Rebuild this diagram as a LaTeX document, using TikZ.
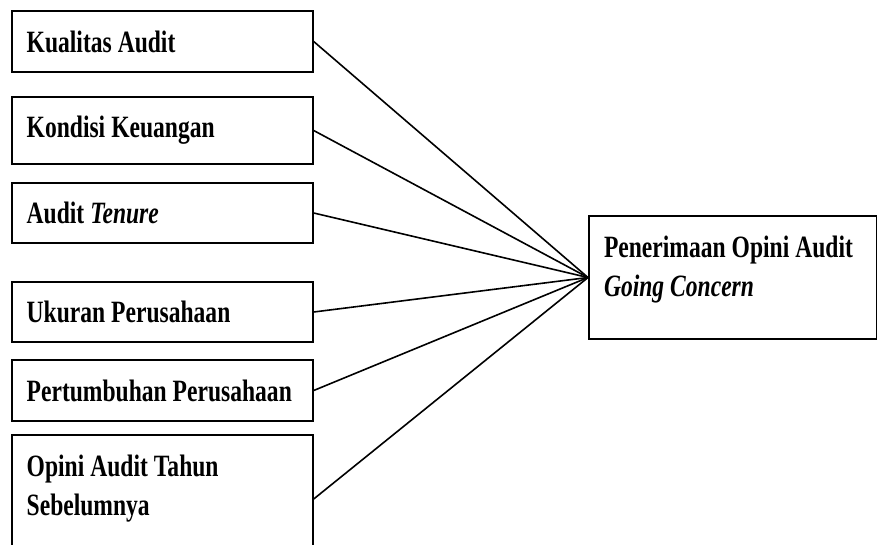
\documentclass[tikz,border=0pt]{standalone}
\usepackage{fontspec}
\setmainfont[FakeStretch=0.76]{Liberation Serif}
\newcommand\narrowspace{\spaceskip=6pt\relax}
\begin{document}
\begin{tikzpicture}[x=1pt,y=-1pt,
var/.style = {% variable boxes
    draw, line width=2pt, anchor=north west,
    inner xsep=15pt, inner ysep=0pt, text width=271pt, align=left,
    font=\fontsize{31}{39}\selectfont\bfseries,
    execute at begin node=\narrowspace,
            },
link/.style = {line width=1.6pt},
                        ]
  \useasboundingbox (0,0) rectangle (877,544);
  \clip (0,0) rectangle (877,544);

  \node[var, minimum height=61pt] (kual) at (10.7,10)  {Kualitas Audit};
  \node[var, minimum height=67pt] (kond) at (10.7,96)  {Kondisi Keuangan};
  \node[var, minimum height=60pt] (ten)  at (10.7,182) {Audit \textit{Tenure}};
  \node[var, minimum height=60pt] (ukur) at (10.7,281) {Ukuran Perusahaan};
  \node[var, minimum height=61pt] (tumb) at (10.7,359) {Pertumbuhan Perusahaan};
  \node[var, inner ysep=14pt] (opini) at (10.7,434)
      {\parbox[b][100pt][t]{271pt}{\narrowspace\strut Opini Audit Tahun\\Sebelumnya}};

  \node[var, text width=258pt, inner ysep=14pt] (gc) at (588,215)
      {\parbox[b][95pt][t]{258pt}{\narrowspace\strut Penerimaan Opini Audit\\\textit{Going Concern}}};

  \foreach \v in {kual,kond,ten,ukur,tumb,opini}
    \draw[link] (\v.east) -- (gc.west);

\end{tikzpicture}
\end{document}
